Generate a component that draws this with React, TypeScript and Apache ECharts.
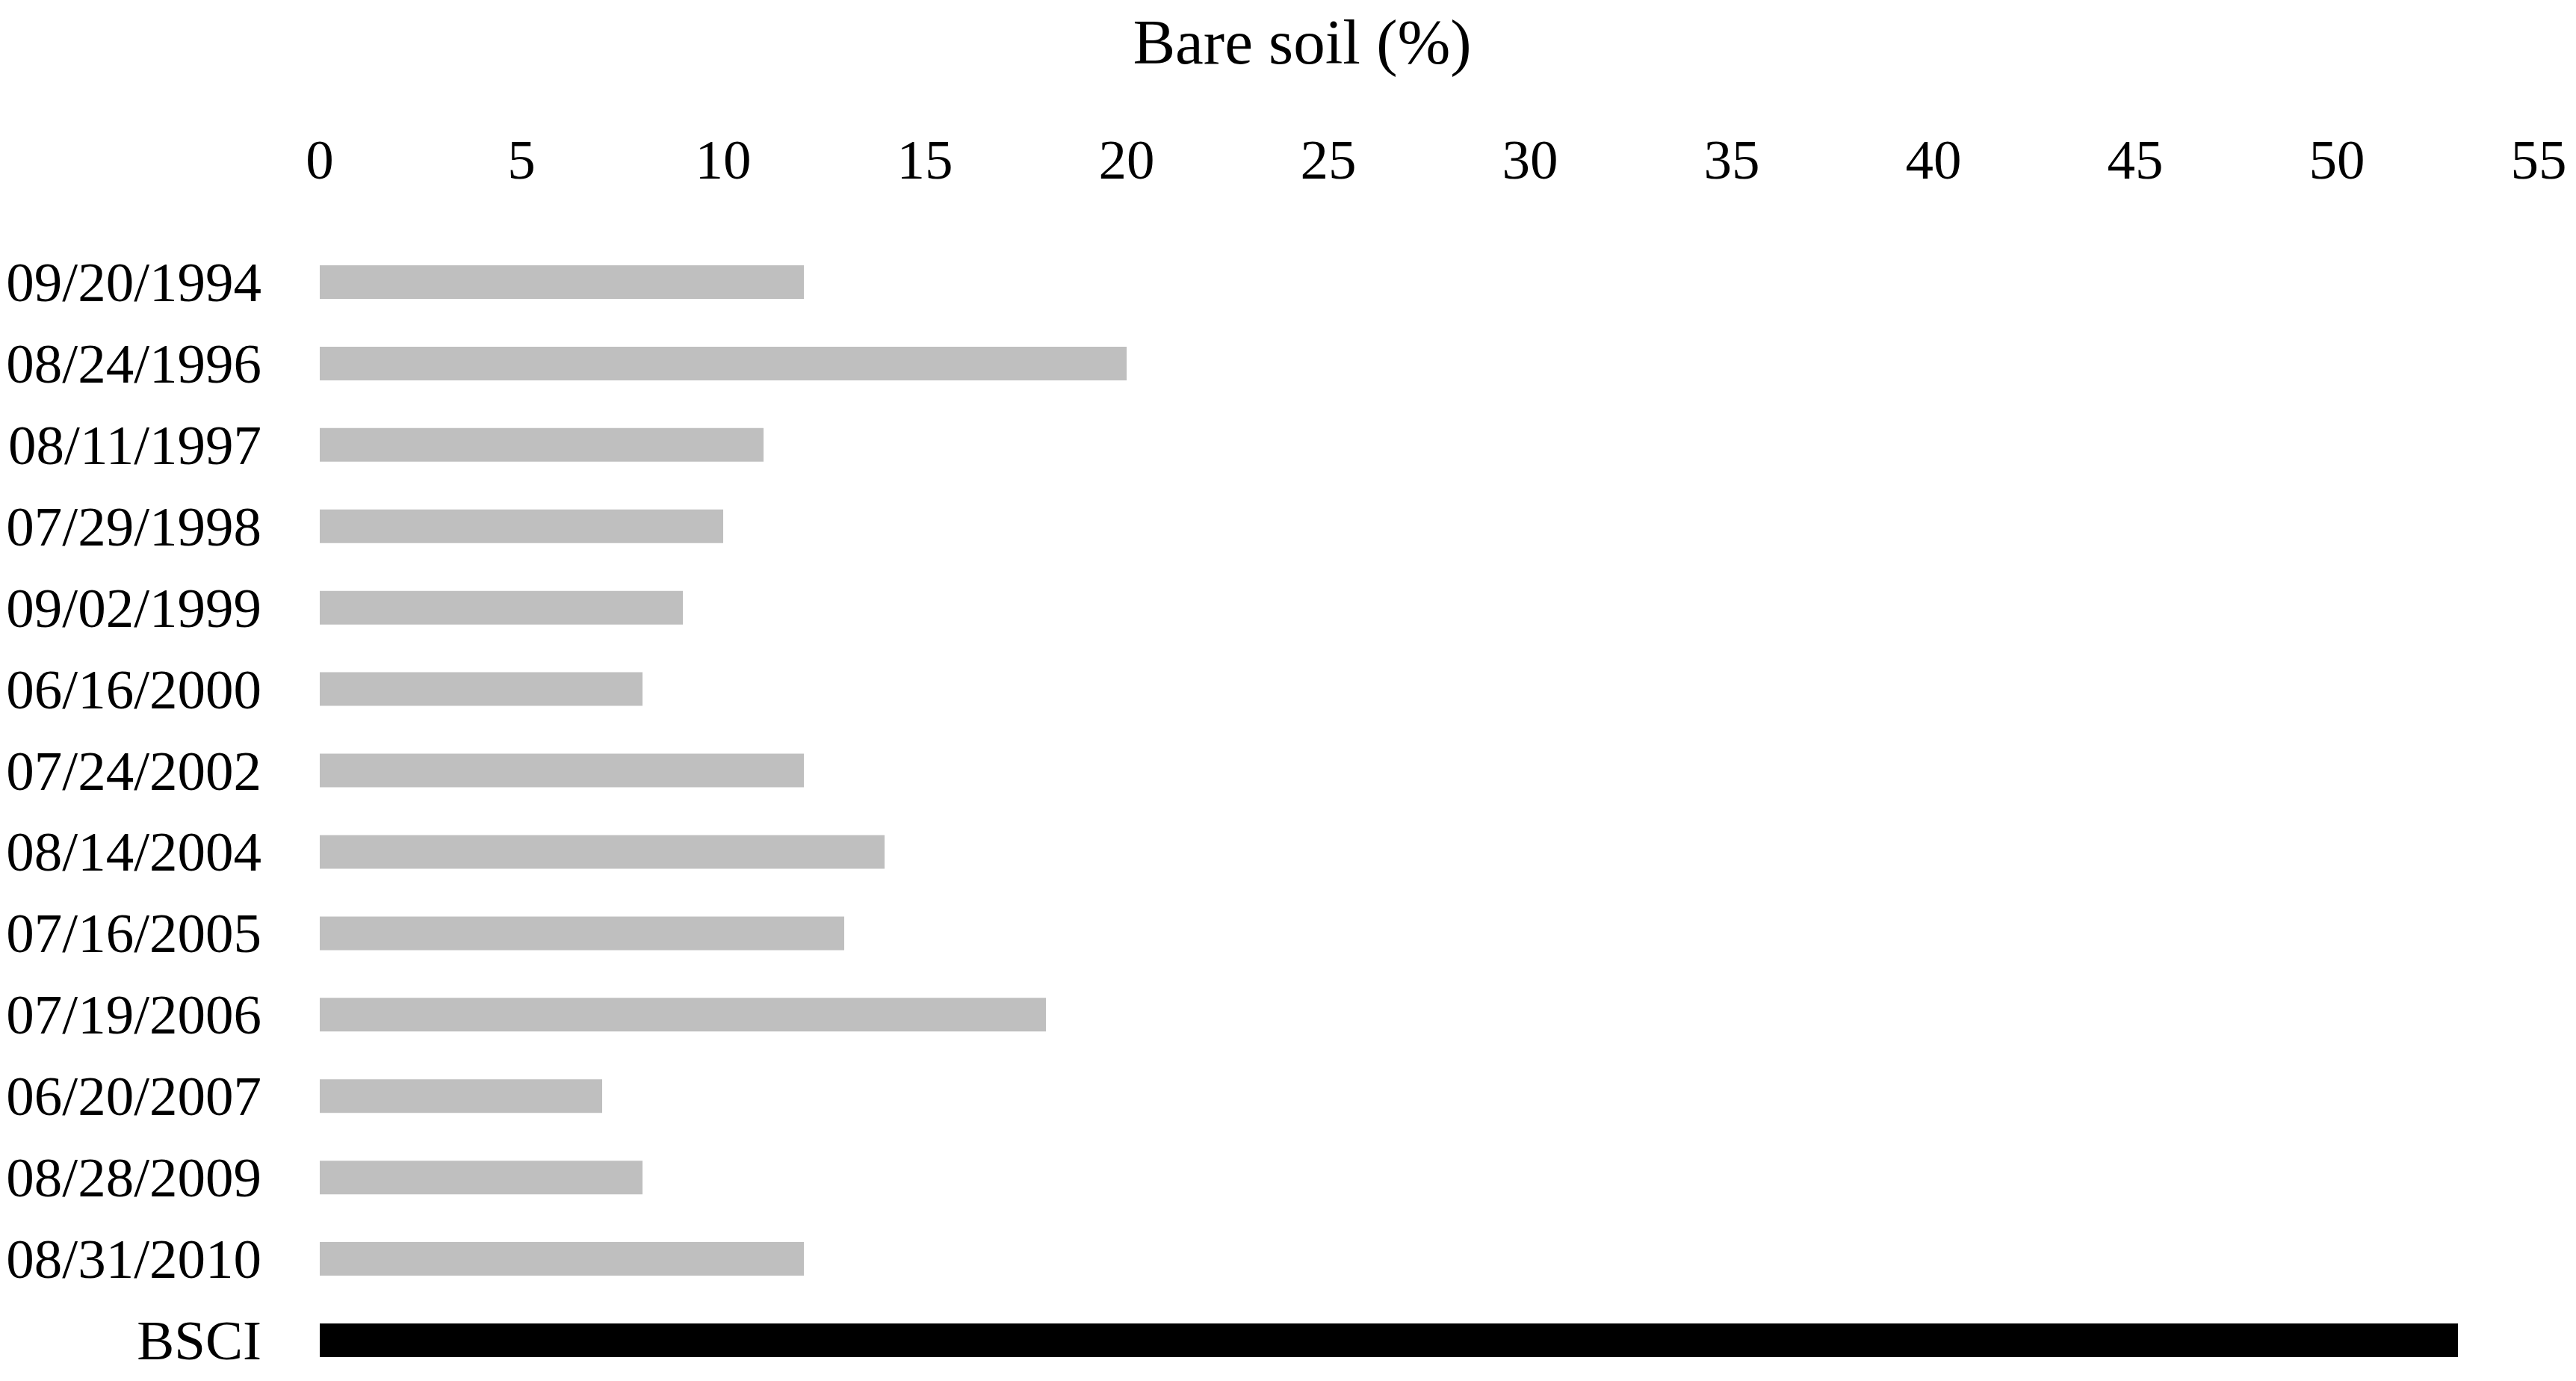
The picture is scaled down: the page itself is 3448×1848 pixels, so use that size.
import React, { useEffect, useRef } from "react";
import * as echarts from "echarts";

const categories = [
  "09/20/1994",
  "08/24/1996",
  "08/11/1997",
  "07/29/1998",
  "09/02/1999",
  "06/16/2000",
  "07/24/2002",
  "08/14/2004",
  "07/16/2005",
  "07/19/2006",
  "06/20/2007",
  "08/28/2009",
  "08/31/2010",
  "BSCI",
];
const values = [12, 20, 11, 10, 9, 8, 12, 14, 13, 18, 7, 8, 12, 53];
const barColors = [
  "#BFBFBF", "#BFBFBF", "#BFBFBF", "#BFBFBF", "#BFBFBF", "#BFBFBF", "#BFBFBF",
  "#BFBFBF", "#BFBFBF", "#BFBFBF", "#BFBFBF", "#BFBFBF", "#BFBFBF", "#000000",
];
const axisTitle = "Bare soil (%)";
const xMin = 0;
const xMax = 55;
const xStep = 5;

const FONT = "'Liberation Serif', 'DejaVu Serif', serif";

export default function App() {
  const ref = useRef<HTMLDivElement>(null);
  useEffect(() => {
    if (!ref.current) return;
    const chart = echarts.init(ref.current, null, { renderer: "svg" });
    chart.setOption({
      animation: false,
      backgroundColor: "#ffffff",
      title: {
        text: axisTitle,
        left: 1738,
        top: 8,
        textAlign: "center",
        textStyle: { fontFamily: FONT, fontSize: 85, fontWeight: "normal", color: "#000" },
      },
      grid: { left: 428, width: 2970, top: 323, height: 1540, containLabel: false },
      xAxis: {
        type: "value",
        position: "top",
        min: xMin,
        max: xMax,
        interval: xStep,
        axisLine: { show: false },
        axisTick: { show: false },
        splitLine: { show: false },
        axisLabel: { fontFamily: FONT, fontSize: 75, color: "#000", margin: 72 },
      },
      yAxis: {
        type: "category",
        inverse: true,
        data: categories,
        axisLine: { show: false },
        axisTick: { show: false },
        splitLine: { show: false },
        axisLabel: { fontFamily: FONT, fontSize: 75, color: "#000", margin: 78 },
      },
      series: [
        {
          type: "bar",
          barWidth: 45,
          data: values.map((v, i) => ({ value: v, itemStyle: { color: barColors[i] } })),
        },
      ],
    });
    return () => chart.dispose();
  }, []);
  return (
    <div
      ref={ref}
      style={{ position: "fixed", left: 0, top: 0, width: 3448, height: 1848 }}
    />
  );
}
